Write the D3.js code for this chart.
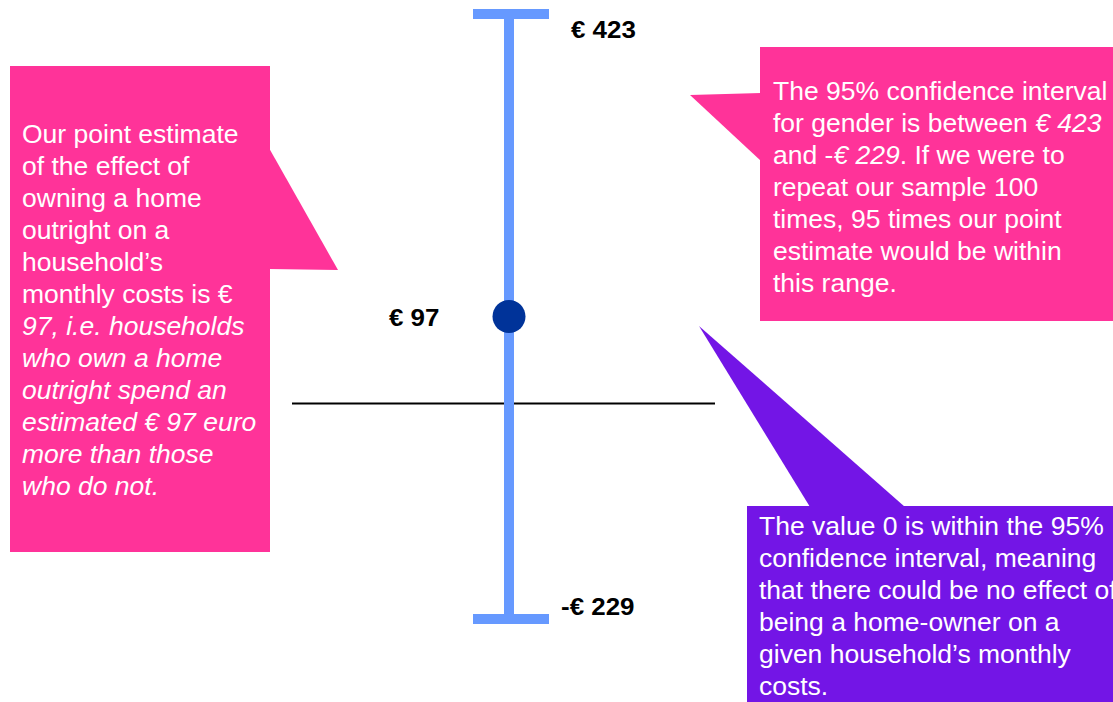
<!DOCTYPE html>
<html>
<head>
<meta charset="utf-8">
<script src="https://cdn.jsdelivr.net/npm/d3@7"></script>
<style>
  body { margin: 0; background: #fff; }
  svg { display: block; font-family: "Liberation Sans", Arial, sans-serif; }
</style>
</head>
<body>
<div id="chart"></div>
<script>
// data
const pointEstimate = 97
const ciUpper = 423
const ciLower = -229
const labels = ["€ 423", "€ 97", "-€ 229"]

// callout texts, each line is a list of [text, italic]
const leftNote = [
  [["Our point estimate", false]],
  [["of the effect of", false]],
  [["owning a home", false]],
  [["outright on a", false]],
  [["household’s", false]],
  [["monthly costs is €", false]],
  [["97, i.e. households", true]],
  [["who own a home", true]],
  [["outright spend an", true]],
  [["estimated € 97 euro", true]],
  [["more than those", true]],
  [["who do not.", true]]
]
const rightNote = [
  [["The 95% confidence interval", false]],
  [["for gender is between ", false], ["€ 423", true]],
  [["and -", false], ["€ 229", true], [". If we were to", false]],
  [["repeat our sample 100", false]],
  [["times, 95 times our point", false]],
  [["estimate would be within", false]],
  [["this range.", false]]
]
const bottomNote = [
  [["The value 0 is within the 95%", false]],
  [["confidence interval, meaning", false]],
  [["that there could be no effect of", false]],
  [["being a home-owner on a", false]],
  [["given household’s monthly", false]],
  [["costs.", false]]
]

function draw() {
  const width = 1113, height = 702

  const svg = d3.select("#chart").append("svg")
    .attr("width", width)
    .attr("height", height)

  // scales
  const y = d3.scaleLinear()
    .domain([ciLower, ciUpper])
    .range([619, 14])
  const cx = 509

  // callout boxes /////
  function callout(box, tail, fill, lines, tx, ty) {
    const g = svg.append("g")
    g.append("rect")
      .attr("x", box[0]).attr("y", box[1])
      .attr("width", box[2]).attr("height", box[3])
      .attr("fill", fill)
    g.append("path")
      .attr("d", d3.line()(tail) + "Z")
      .attr("fill", fill)
    const t = g.append("text")
      .attr("fill", "#fff")
      .attr("font-size", 26.5)
    lines.forEach((ln, i) => {
      ln.forEach((seg, j) => {
        const s = t.append("tspan")
          .text(seg[0])
          .attr("font-style", seg[1] ? "italic" : "normal")
        if (j == 0) s.attr("x", tx).attr("y", ty + i * 32)
      })
    })
  }

  callout([10, 66, 260, 486], [[269, 148], [338, 270], [269, 269]],
    "#FF3399", leftNote, 22, 143)
  callout([760, 47, 360, 274], [[761, 93], [690, 95], [761, 161]],
    "#FF3399", rightNote, 773, 100)

  // zero line (drawn a few px above scale zero to match the source)
  svg.append("line")
    .attr("x1", 292).attr("x2", 715)
    .attr("y1", y(0) - 3).attr("y2", y(0) - 3)
    .attr("stroke", "#000")
    .attr("stroke-width", 2)

  // error bar
  svg.append("line")
    .attr("x1", cx).attr("x2", cx)
    .attr("y1", y(ciUpper)).attr("y2", y(ciLower))
    .attr("stroke", "#6699FF")
    .attr("stroke-width", 10)

  svg.selectAll(".cap")
    .data([ciUpper, ciLower])
    .enter().append("line")
      .attr("class", "cap")
      .attr("x1", 473).attr("x2", 549)
      .attr("y1", d => y(d)).attr("y2", d => y(d))
      .attr("stroke", "#6699FF")
      .attr("stroke-width", 10)

  svg.append("circle")
    .attr("cx", cx)
    .attr("cy", y(pointEstimate))
    .attr("r", 16.5)
    .attr("fill", "#003399")

  // value labels
  const labelPos = [
    {v: ciUpper, x: 571, dy: 24},
    {v: pointEstimate, x: 389, dy: 9},
    {v: ciLower, x: 561, dy: -4}
  ]
  svg.selectAll(".lab")
    .data(labelPos)
    .enter().append("text")
      .attr("class", "lab")
      .attr("transform", d => `translate(${d.x},${y(d.v) + d.dy}) scale(1.08,1)`)
      .attr("font-size", 24)
      .attr("font-weight", "bold")
      .attr("fill", "#000")
      .text((d, i) => labels[i])

  // purple callout drawn last
  callout([747, 506, 380, 200], [[699, 326], [810, 507], [905, 507]],
    "#7315E6", bottomNote, 759, 535)
}

draw()
</script>
</body>
</html>
